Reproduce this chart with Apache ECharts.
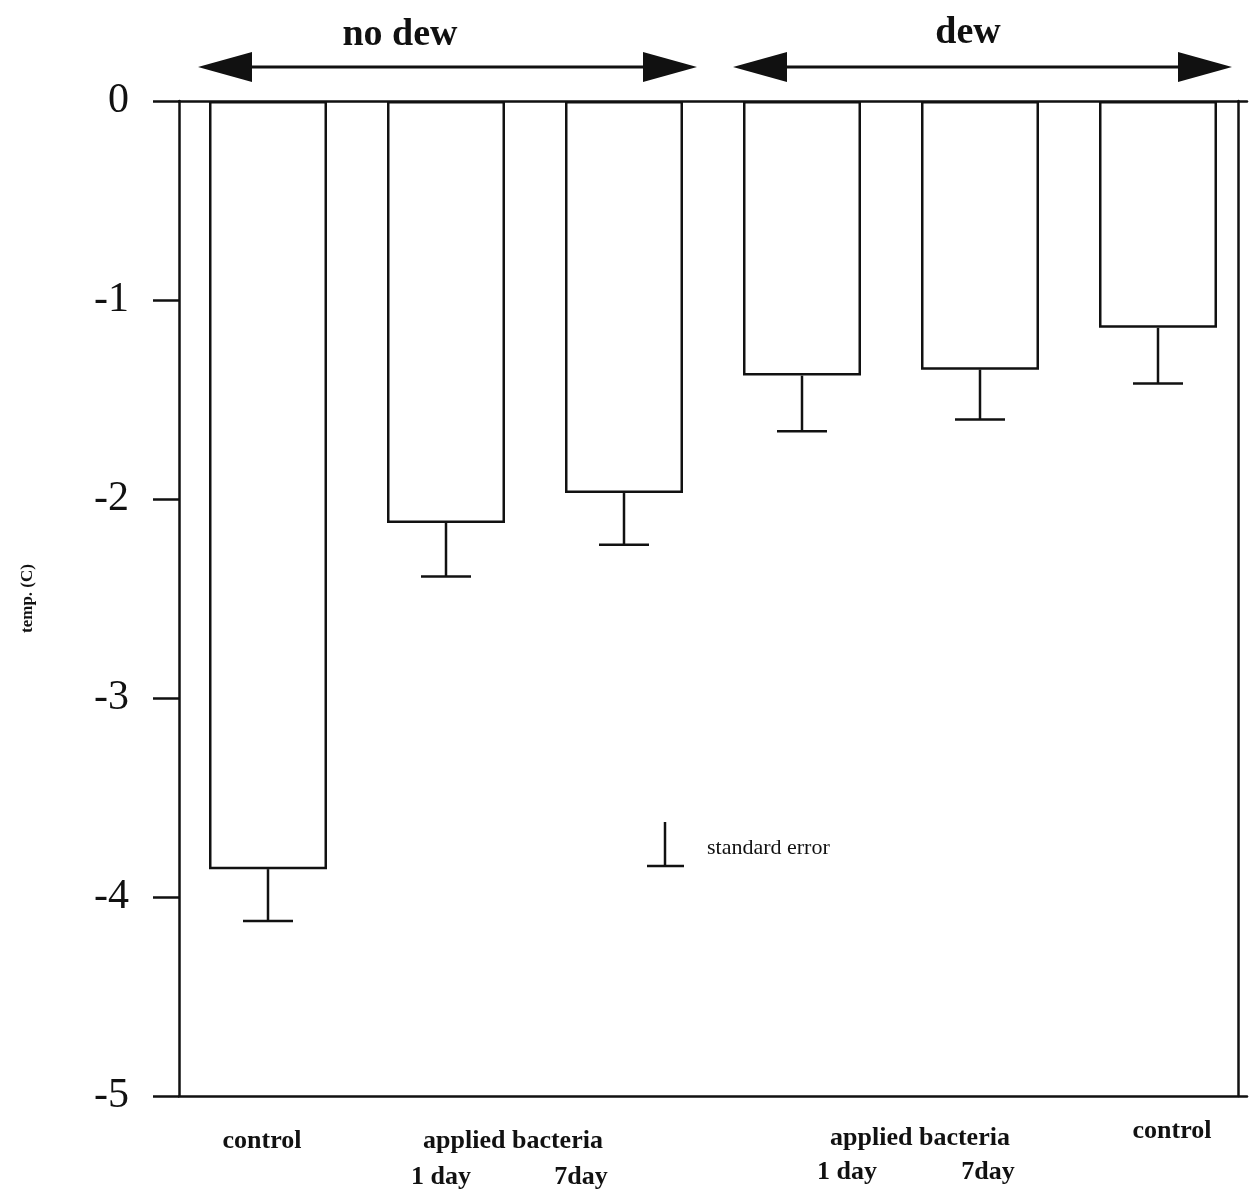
<!DOCTYPE html>
<html>
<head>
<meta charset="utf-8">
<script src="https://cdn.jsdelivr.net/npm/echarts@6/dist/echarts.min.js"></script>
<style>
  html, body { margin: 0; padding: 0; background: #fff; }
  #chart { width: 1257px; height: 1199px; }
</style>
</head>
<body>
<div id="chart"></div>
<script>
// Treatments, left to right: three without dew, three with dew
const categories = ['control', 'applied 1 day', 'applied 7day', 'dew applied 1 day', 'dew applied 7day', 'dew control'];
// Mean freezing temperature (C) and standard error per treatment
const meanTemp = [-3.86, -2.12, -1.97, -1.38, -1.35, -1.14];
const stdError = [0.26, 0.27, 0.26, 0.28, 0.25, 0.28];
// Y tick values
const yTicks = [0, -1, -2, -3, -4, -5];
// Group headers and the text printed under the bars
const groupHeaders = ['no dew', 'dew'];
const bottomLabels = [
  { text: 'control', x: 262, y: 1141 },
  { text: 'applied bacteria', x: 513, y: 1141 },
  { text: '1 day', x: 441, y: 1177 },
  { text: '7day', x: 581, y: 1177 },
  { text: 'applied bacteria', x: 920, y: 1138 },
  { text: '1 day', x: 847, y: 1172 },
  { text: '7day', x: 988, y: 1172 },
  { text: 'control', x: 1172, y: 1131 }
];
const legendText = 'standard error';

const SERIF = '"Liberation Serif", "DejaVu Serif", serif';
const INK = '#111';

const chart = echarts.init(document.getElementById('chart'), null, { renderer: 'canvas' });

function arrow(x1, x2, y) {
  const head = 54, half = 15;
  return [
    { type: 'line', shape: { x1: x1 + head - 4, y1: y, x2: x2 - head + 4, y2: y },
      style: { stroke: INK, lineWidth: 3 } },
    { type: 'polygon', shape: { points: [[x1, y], [x1 + head, y - half], [x1 + head, y + half]] },
      style: { fill: INK } },
    { type: 'polygon', shape: { points: [[x2, y], [x2 - head, y - half], [x2 - head, y + half]] },
      style: { fill: INK } }
  ];
}

const graphics = [].concat(
  arrow(198, 697, 67),
  arrow(733, 1232, 67),
  [
    { type: 'text', x: 400, y: 35, style: { text: groupHeaders[0], font: 'bold 38px ' + SERIF, fill: INK, align: 'center', verticalAlign: 'middle' } },
    { type: 'text', x: 968, y: 33, style: { text: groupHeaders[1], font: 'bold 38px ' + SERIF, fill: INK, align: 'center', verticalAlign: 'middle' } },
    // standard error key
    { type: 'line', shape: { x1: 665, y1: 822, x2: 665, y2: 866 }, style: { stroke: INK, lineWidth: 2.5 } },
    { type: 'line', shape: { x1: 647, y1: 866, x2: 684, y2: 866 }, style: { stroke: INK, lineWidth: 2.5 } },
    { type: 'text', x: 707, y: 848, style: { text: legendText, font: '22px ' + SERIF, fill: INK, verticalAlign: 'middle' } }
  ],
  bottomLabels.map(l => ({
    type: 'text', x: l.x, y: l.y,
    style: { text: l.text, font: 'bold 26px ' + SERIF, fill: INK, align: 'center', verticalAlign: 'middle' }
  }))
);

const option = {
  backgroundColor: '#fff',
  animation: false,
  grid: { left: 179, right: 10, top: 101, bottom: 103 },
  xAxis: [
    {
      type: 'category', data: categories, position: 'bottom',
      axisLine: { show: true, onZero: false, lineStyle: { color: INK, width: 2.5 } },
      axisTick: { show: false }, axisLabel: { show: false }, splitLine: { show: false }
    },
    {
      type: 'category', data: categories, position: 'top',
      axisLine: { show: true, onZero: false, lineStyle: { color: INK, width: 2.5 } },
      axisTick: { show: false }, axisLabel: { show: false }, splitLine: { show: false }
    }
  ],
  yAxis: [
    {
      type: 'value', min: -5, max: 0, interval: 1,
      name: 'temp. (C)', nameLocation: 'middle', nameGap: 143, nameRotate: 90,
      nameTextStyle: { fontFamily: SERIF, fontWeight: 'bold', fontSize: 17, color: INK },
      axisLine: { show: true, lineStyle: { color: INK, width: 2.5 } },
      axisTick: { show: true, inside: false, length: 26, lineStyle: { color: INK, width: 2.5 } },
      axisLabel: {
        margin: 50, fontFamily: SERIF, fontSize: 42, color: INK, padding: [12, 0, 0, 0],
        formatter: v => (yTicks.indexOf(v) >= 0 ? String(v) : '')
      },
      splitLine: { show: false }
    },
    {
      type: 'value', min: -5, max: 0, interval: 1, position: 'right', offset: -9,
      axisLine: { show: true, lineStyle: { color: INK, width: 2.5 } },
      axisTick: { show: false }, axisLabel: { show: false }, splitLine: { show: false }
    }
  ],
  series: [
    {
      type: 'bar', xAxisIndex: 0, yAxisIndex: 0,
      data: meanTemp, barWidth: 118,
      itemStyle: { color: '#fff', borderColor: INK, borderWidth: 2.5 }
    },
    {
      type: 'custom', xAxisIndex: 0, yAxisIndex: 0, z: 5,
      data: meanTemp.map((m, i) => [i, m, stdError[i]]),
      renderItem: function (params, api) {
        const i = api.value(0), m = api.value(1), e = api.value(2);
        const p0 = api.coord([i, m]);
        const p1 = api.coord([i, m - e]);
        const cap = 25;
        return {
          type: 'group',
          children: [
            { type: 'line', shape: { x1: p0[0], y1: p0[1], x2: p1[0], y2: p1[1] }, style: { stroke: INK, lineWidth: 2.5 } },
            { type: 'line', shape: { x1: p1[0] - cap, y1: p1[1], x2: p1[0] + cap, y2: p1[1] }, style: { stroke: INK, lineWidth: 2.5 } }
          ]
        };
      }
    }
  ],
  graphic: graphics
};

chart.setOption(option);
</script>
</body>
</html>
